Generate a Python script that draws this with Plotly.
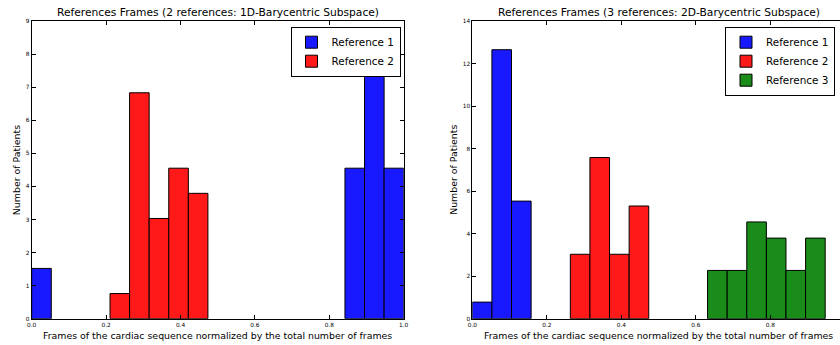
import numpy as np
import plotly.graph_objects as go

# ---------------- data ----------------
bin_edges = np.linspace(0.0, 1.0, 20)  # 19 bins of width 1/19
bin_width = bin_edges[1] - bin_edges[0]

x_ticks = [0.0, 0.2, 0.4, 0.6, 0.8, 1.0]

left_ref1_bins = [0, 16, 17, 18]
left_ref1_vals = [1.52, 4.55, 8.36, 4.55]
left_ref2_bins = [4, 5, 6, 7, 8]
left_ref2_vals = [0.76, 6.83, 3.03, 4.55, 3.79]

right_ref1_bins = [0, 1, 2]
right_ref1_vals = [0.78, 12.65, 5.53]
right_ref2_bins = [5, 6, 7, 8]
right_ref2_vals = [3.03, 7.58, 3.03, 5.30]
right_ref3_bins = [12, 13, 14, 15, 16, 17]
right_ref3_vals = [2.27, 2.27, 4.55, 3.79, 2.27, 3.79]

left_yticks = list(range(0, 10))
right_yticks = list(range(0, 16, 2))

title_left = "References Frames (2 references: 1D-Barycentric Subspace)"
title_right = "References Frames (3 references: 2D-Barycentric Subspace)"
xlabel = "Frames of the cardiac sequence normalized by the total number of frames"
ylabel = "Number of Patients"

BLUE = "rgb(25,25,255)"
RED = "rgb(255,25,25)"
GREEN = "rgb(25,140,25)"
FONT = "DejaVu Sans"

W, H = 840, 345


def centers(bins):
    return [bin_edges[b] + bin_width / 2 for b in bins]


def bar(bins, vals, color, name, xa, ya, legend):
    return go.Bar(
        x=centers(bins), y=vals, width=[bin_width] * len(bins),
        marker=dict(color=color, line=dict(color="black", width=1)),
        name=name, xaxis=xa, yaxis=ya, legend=legend,
    )


fig = go.Figure()
fig.add_trace(bar(left_ref1_bins, left_ref1_vals, BLUE, "Reference 1", "x", "y", "legend"))
fig.add_trace(bar(left_ref2_bins, left_ref2_vals, RED, "Reference 2", "x", "y", "legend"))
fig.add_trace(bar(right_ref1_bins, right_ref1_vals, BLUE, "Reference 1", "x2", "y2", "legend2"))
fig.add_trace(bar(right_ref2_bins, right_ref2_vals, RED, "Reference 2", "x2", "y2", "legend2"))
fig.add_trace(bar(right_ref3_bins, right_ref3_vals, GREEN, "Reference 3", "x2", "y2", "legend2"))

# pixel geometry
L0, L1 = 31.7, 403.7
R0 = 472.3
px_per_unit = 372.5
TOP, BOT = 21.0, 318.7


def px(xp):
    return xp / W


def py(yp):
    return (H - yp) / H


ax_common = dict(
    showgrid=False, zeroline=False, showline=True, linecolor="black", linewidth=1,
    ticks="inside", ticklen=4, tickwidth=1, tickcolor="black", automargin=False,
    tickfont=dict(family=FONT, size=5.8, color="black"),
)

legend_common = dict(
    xanchor="right", yanchor="top",
    bgcolor="white", bordercolor="black", borderwidth=1,
    font=dict(family=FONT, size=10.4, color="black"),
    tracegroupgap=0, itemclick=False, itemdoubleclick=False,
)

fig.update_layout(
    template="none",
    width=W, height=H,
    autosize=False,
    margin=dict(l=0, r=0, t=0, b=0, pad=0, autoexpand=False),
    paper_bgcolor="white", plot_bgcolor="white",
    barmode="overlay",
    font=dict(family=FONT, color="black"),
    xaxis=dict(domain=[px(L0), px(L1)], range=[0, 1], tickvals=x_ticks,
               tickformat=".1f", mirror="ticks", anchor="y", **ax_common),
    yaxis=dict(domain=[py(BOT), py(TOP)], range=[0, 9], tickvals=left_yticks,
               mirror="ticks", anchor="x", **ax_common),
    xaxis2=dict(domain=[px(R0), 1.0], range=[0, (W - R0) / px_per_unit],
                tickvals=x_ticks[:-1], tickformat=".1f", mirror="ticks",
                anchor="y2", **ax_common),
    yaxis2=dict(domain=[py(BOT), py(TOP)], range=[0, 14], tickvals=right_yticks,
                mirror=False, anchor="x2", **ax_common),
    legend=dict(x=px(400.5), y=py(26.7), **legend_common),
    legend2=dict(x=px(835), y=py(26.7), **legend_common),
    showlegend=True,
)


def add_text(text, xp, yp, size, angle=0):
    fig.add_annotation(text=text, x=px(xp), y=py(yp), xanchor="center", yanchor="middle",
                       textangle=angle, showarrow=False, xref="paper", yref="paper",
                       font=dict(family=FONT, size=size, color="black"))


add_text(title_left, (L0 + L1) / 2, 13, 10.7)
add_text(title_right, R0 + 0.5 * px_per_unit, 13, 10.7)
add_text(xlabel, (L0 + L1) / 2, 335.5, 9.4)
add_text(xlabel, R0 + 0.5 * px_per_unit, 335.5, 9.4)
add_text(ylabel, 17.3, (TOP + BOT) / 2, 9.4, -90)
add_text(ylabel, 454, (TOP + BOT) / 2, 9.4, -90)

fig.write_html(
    "out.html",
    config={"displayModeBar": False, "staticPlot": True},
    post_script="document.body.style.margin='0';document.body.style.overflow='hidden';",
)
